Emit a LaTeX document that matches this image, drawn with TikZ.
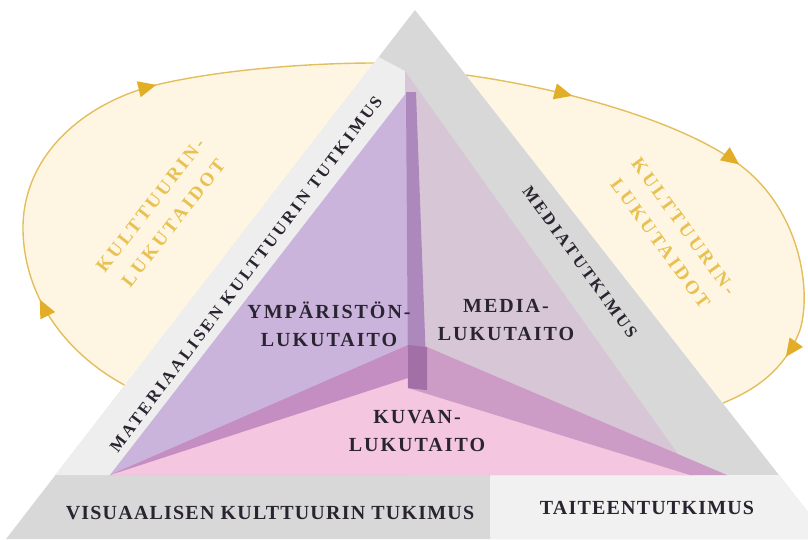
\documentclass[tikz,border=0pt]{standalone}
\usepackage{fontspec}
\setmainfont{Liberation Serif}
\newfontfamily\innerfont{Liberation Serif}[LetterSpace=10]
\newfontfamily\basefont{Liberation Serif}[LetterSpace=6]
\newfontfamily\bandfont{Liberation Serif}[LetterSpace=16]
\newfontfamily\goldfont{Liberation Serif}[LetterSpace=16]
\usetikzlibrary{arrows.meta,decorations.markings}
\definecolor{graydk}{HTML}{D8D8D8}
\definecolor{graylt}{HTML}{EEEEEE}
\definecolor{graylt2}{HTML}{F1F1F1}
\definecolor{mediaf}{HTML}{D7C7D6}
\definecolor{lavf}{HTML}{CBB4DC}
\definecolor{pinkf}{HTML}{F4C6E0}
\definecolor{lband}{HTML}{C48EC3}
\definecolor{rband}{HTML}{CD9CC6}
\definecolor{stripc}{HTML}{AD88BC}
\definecolor{overc}{HTML}{A36FA7}
\definecolor{inkc}{HTML}{2A2430}
\definecolor{cream}{HTML}{FEF6E3}
\definecolor{goldl}{HTML}{E3BE5C}
\definecolor{goldarr}{HTML}{E2AD27}
\definecolor{goldt}{HTML}{E8C150}
\newcommand\leftlooprest{.. controls (60,350) and (22,290) .. (23,225) .. controls (25,150) and (90,100) .. (160,84) .. controls (230,68) and (320,63) .. (lb)}
\newcommand\rightlooprest{.. controls (560,88) and (680,120) .. (740,165) .. controls (800,210) and (812,290) .. (800,330) .. controls (785,370) and (755,390) .. (rb)}
\begin{document}
\begin{tikzpicture}[x=1pt,y=-1pt,
  goldline/.style={draw=goldl, line width=1.4pt},
  innerlbl/.style={font=\innerfont\bfseries\fontsize{20}{28}\selectfont, text=inkc, inner sep=0pt, align=center},
  baselbl/.style={font=\basefont\bfseries\fontsize{20}{24}\selectfont, text=inkc, inner sep=0pt},
  bandlbl/.style={font=\bandfont\bfseries\fontsize{17}{20}\selectfont, text=inkc, inner sep=0pt},
  goldlbl/.style={font=\goldfont\bfseries\fontsize{19}{29}\selectfont, text=goldt, inner sep=0pt, align=center}]
\useasboundingbox (0,0) rectangle (808,539);
\clip (0,0) rectangle (808,539);
% key points
\coordinate (A) at (415,10);
\coordinate (BL) at (6,539);
\coordinate (BR) at (829,539);
\coordinate (la) at (124.4,385);
\coordinate (lb) at (374,63);
\coordinate (ra) at (466,75);
\coordinate (rb) at (723,403);
% loops: fill
\fill[cream] (la) \leftlooprest -- cycle;
\fill[cream] (ra) \rightlooprest -- cycle;
% loops: lines with arrowheads
\draw[goldline, decoration={markings,
   mark=at position 0.195 with {\arrow[goldarr]{Triangle[length=18pt,width=16pt]}},
   mark=at position 0.65 with {\arrow[goldarr]{Triangle[length=18pt,width=16pt]}}},
   postaction={decorate}] (la) \leftlooprest;
\draw[goldline, decoration={markings,
   mark=at position 0.185 with {\arrow[goldarr]{Triangle[length=18pt,width=16pt]}},
   mark=at position 0.495 with {\arrow[goldarr]{Triangle[length=18pt,width=16pt]}},
   mark=at position 0.865 with {\arrow[goldarr]{Triangle[length=18pt,width=16pt]}}},
   postaction={decorate}] (ra) \rightlooprest;
% outer triangle
\fill[graydk] (A) -- (BL) -- (BR) -- cycle;
\fill[graylt2] (490,475) -- (779,475) -- (BR) -- (490,539) -- cycle;
\fill[graylt] (378.6,57) -- (405,71) -- (407,92) -- (110,475) -- (55.3,475) -- cycle;
% faces
\fill[mediaf] (405,71) -- (693,475) -- (408,475) -- cycle;
\fill[lavf] (407,92) -- (110,475) -- (408,475) -- cycle;
\fill[pinkf] (110,475) -- (408,360) -- (693,475) -- cycle;
% edge bands
\fill[lband] (408,345) -- (408,378) -- (110,475) -- cycle;
\fill[rband] (408,388) -- (427,347) -- (727,475) -- (690,475) -- cycle;
\fill[stripc] (406,92) -- (416,92) -- (427,390) -- (408,388) -- cycle;
\fill[overc] (408,345) -- (427,347) -- (427,390) -- (408,388) -- cycle;
% labels
\node[bandlbl, rotate=53] (mat) at (246,274) {MATERIAALISEN KULTTUURIN TUTKIMUS};
\node[bandlbl, rotate=-54] (med) at (580,262) {MEDIATUTKIMUS};
\node[baselbl] (vis) at (270,513) {VISUAALISEN KULTTUURIN TUKIMUS};
\node[baselbl] (tai) at (647,508) {TAITEENTUTKIMUS};
\node[innerlbl] (ymp) at (329,324) {YMPÄRISTÖN-\\LUKUTAITO};
\node[innerlbl] (med2) at (506,320) {MEDIA-\\LUKUTAITO};
\node[innerlbl] (kuv) at (417,431) {KUVAN-\\LUKUTAITO};
\node[goldlbl, rotate=52] (kl) at (162,214) {KULTTUURIN-\\LUKUTAIDOT};
\node[goldlbl, rotate=-54] (kr) at (672,235) {KULTTUURIN-\\LUKUTAIDOT};
\end{tikzpicture}
\end{document}
